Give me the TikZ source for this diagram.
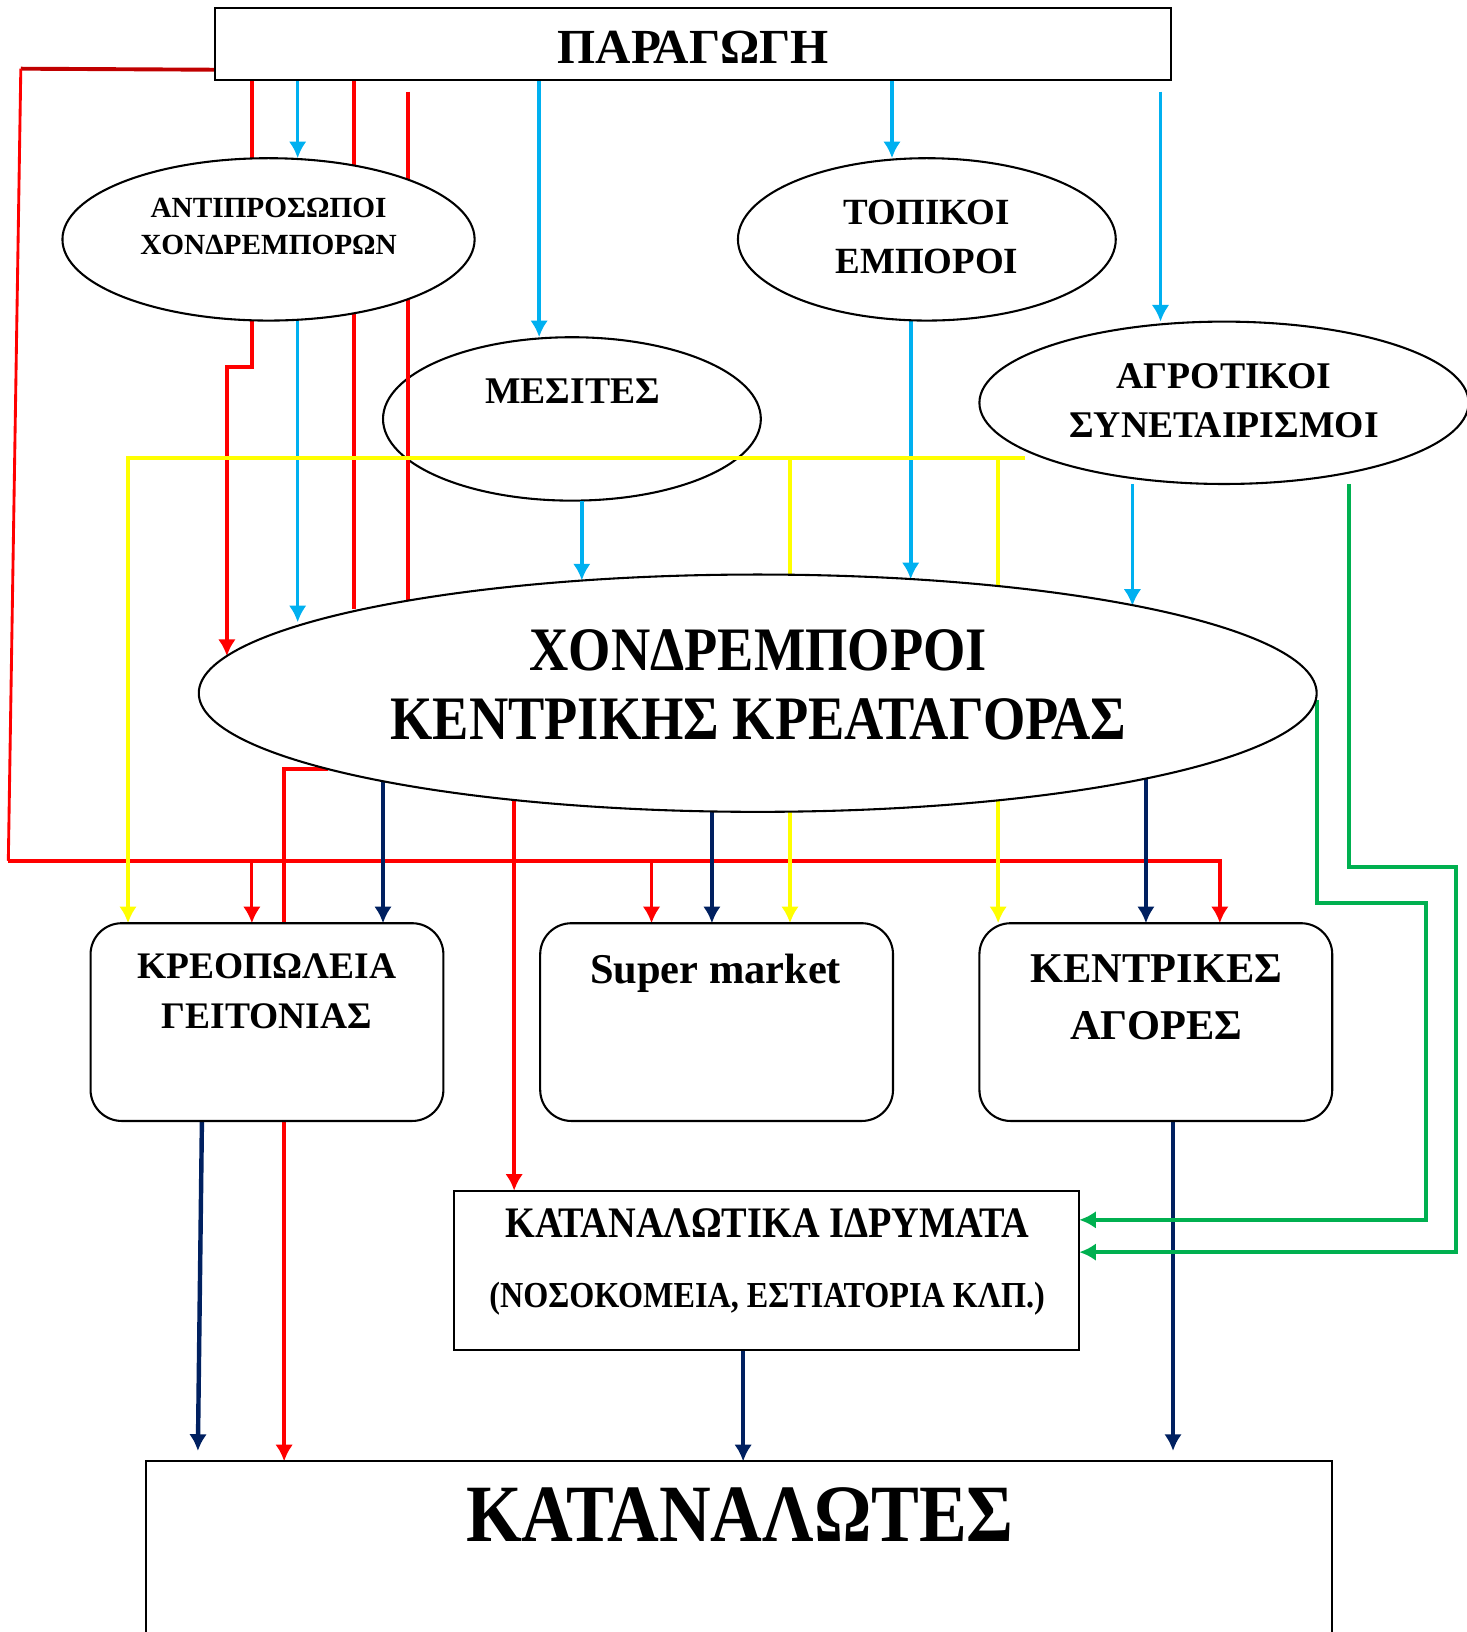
\documentclass[tikz,border=0pt]{standalone}
\usepackage{fontspec}
\setmainfont{Liberation Serif}
\newfontfamily\schmal[FakeStretch=0.88]{Liberation Serif}
\usetikzlibrary{arrows.meta,shapes.geometric}
\definecolor{rot}{HTML}{FF0000}
\definecolor{dunkelrot}{HTML}{C00000}
\definecolor{hellblau}{HTML}{00B0F0}
\definecolor{gelb}{HTML}{FFFF00}
\definecolor{marine}{HTML}{002060}
\definecolor{gruen}{HTML}{00B050}
\newdimen\px \px=0.2mm
\pgfdeclarelayer{unten}
\pgfdeclarelayer{linien}
\pgfsetlayers{unten,linien,main}
\tikzset{
  spitze/.style={-{Latex[length=3.2mm,width=3.4mm]}},
  lrot/.style={rot,line width=0.75mm},
  lrotd/.style={rot,line width=0.55mm},
  lblau/.style={hellblau,line width=0.7mm},
  lgelb/.style={gelb,line width=0.75mm},
  lmarine/.style={marine,line width=0.85mm},
  lgruen/.style={gruen,line width=0.75mm},
  oval/.style={ellipse,draw,fill=white,line width=0.4mm,inner sep=0pt,outer sep=0pt},
  kasten/.style={rectangle,draw,fill=white,line width=0.4mm,inner sep=0pt,outer sep=0pt},
  rundkasten/.style={kasten,rounded corners=6mm},
  txt/.style={align=center,inner sep=0pt},
}

\begin{document}
\begin{tikzpicture}[x=0.2mm,y=-0.2mm]
  \useasboundingbox (0,0) rectangle (1409,1568);
  % Knoten
  \node[kasten,minimum width=918\px,minimum height=69\px] (prod) at (666,42.5) {};
  \node[txt,font=\fontsize{26.8}{30}\selectfont\bfseries] (prodt) at (666,45) {ΠΑΡΑΓΩΓΗ};
  \node[oval,minimum width=396\px,minimum height=156\px] (antip) at (258,230) {};
  \node[txt,font=\fontsize{16}{20.2}\selectfont\bfseries] (antipt) at (258,218) {ΑΝΤΙΠΡΟΣΩΠΟΙ\\ΧΟΝΔΡΕΜΠΟΡΩΝ};
  \node[oval,minimum width=363\px,minimum height=156\px] (topik) at (890.5,230) {};
  \node[txt,font=\fontsize{20.2}{26.7}\selectfont\bfseries] (topikt) at (890.5,228) {ΤΟΠΙΚΟΙ\\ΕΜΠΟΡΟΙ};
  \begin{pgfonlayer}{unten}
    \node[oval,minimum width=363\px,minimum height=157\px] (mesit) at (549.5,402.5) {};
  \end{pgfonlayer}
  \node[txt,font=\fontsize{20.6}{24}\selectfont\bfseries] (mesitt) at (550,376) {ΜΕΣΙΤΕΣ};
  \node[oval,minimum width=470\px,minimum height=156\px] (agrot) at (1176,387) {};
  \node[txt,font=\fontsize{20.6}{26.4}\selectfont\bfseries] (agrott) at (1176,385) {ΑΓΡΟΤΙΚΟΙ\\ΣΥΝΕΤΑΙΡΙΣΜΟΙ};
  \node[oval,minimum width=1074\px,minimum height=228\px] (chondr) at (728,666) {};
  \node[txt,font=\schmal\fontsize{33.8}{38.1}\selectfont\bfseries] (chondrt) at (728.5,658) {ΧΟΝΔΡΕΜΠΟΡΟΙ\\ΚΕΝΤΡΙΚΗΣ ΚΡΕΑΤΑΓΟΡΑΣ};
  \node[rundkasten,minimum width=339\px,minimum height=190\px] (kreop) at (256.5,982) {};
  \node[txt,font=\fontsize{20.5}{27.3}\selectfont\bfseries] (kreopt) at (256.5,952) {ΚΡΕΟΠΩΛΕΙΑ\\ΓΕΙΤΟΝΙΑΣ};
  \node[rundkasten,minimum width=339\px,minimum height=190\px] (smarket) at (688.5,982) {};
  \node[txt,anchor=base,font=\fontsize{23.2}{27}\selectfont\bfseries] (smarkett) at (687.5,945) {Super market};
  \node[rundkasten,minimum width=339\px,minimum height=190\px] (kagor) at (1110.5,982) {};
  \node[txt,font=\fontsize{23.2}{31.3}\selectfont\bfseries] (kagort) at (1111,958.5) {ΚΕΝΤΡΙΚΕΣ\\ΑΓΟΡΕΣ};
  \node[kasten,minimum width=601\px,minimum height=153\px] (idrym) at (736.5,1220.5) {};
  \node[txt,anchor=base,font=\schmal\fontsize{23.8}{27}\selectfont\bfseries] (idrymt) at (737,1189) {ΚΑΤΑΝΑΛΩΤΙΚΑ ΙΔΡΥΜΑΤΑ};
  \node[txt,anchor=base,font=\schmal\fontsize{20}{24}\selectfont\bfseries] (idrymz) at (737,1256) {(ΝΟΣΟΚΟΜΕΙΑ, ΕΣΤΙΑΤΟΡΙΑ ΚΛΠ.)};
  \node[kasten,minimum width=1140\px,minimum height=200\px] (katan) at (710,1504) {};
  \node[txt,anchor=base,font=\schmal\fontsize{44.5}{50}\selectfont\bfseries] (katant) at (711,1481) {ΚΑΤΑΝΑΛΩΤΕΣ};

  \begin{pgfonlayer}{linien}
    % rote Wege
    \coordinate (ecke) at (20,66);
    \coordinate (knick) at (8,827);
    \draw[lrot,dunkelrot] (prod.west |- 0,67) -- (ecke);
    \draw[lrotd] (ecke) -- (knick);
    \draw[lrot,spitze] (knick) -- (1172,827) -- (kagor.north -| 1172,0);
    \draw[lrotd,spitze] (242,827) -- (kreop.north -| 242,0);
    \draw[lrotd,spitze] (626,827) -- (smarket.north -| 626,0);
    \draw[lrot] (prod.south -| 242,0) -- (antip.north -| 242,0);
    \draw[lrot,spitze] (antip.south -| 242,0) -- (242,353) -- (218,353) -- (chondr.176 -| 218,0);
    \draw[lrot] (prod.south -| 340,0) -- (chondr.168.5 -| 340,0);
    \draw[lrot,shorten <=11\px] (prod.south -| 392,0) -- (chondr.165.2 -| 392,0);
    \draw[lrot,spitze] (chondr.190.3) -| (katan.north -| 273,0);
    \draw[lrot,spitze] (chondr.203.7 -| 494,0) -- (idrym.north -| 494,0);
    % blaue Wege
    \draw[lblau,spitze] (prod.south -| 286,0) -- (antip.north -| 286,0);
    \draw[lblau,spitze] (antip.south -| 286,0) -- (chondr.171.7 -| 286,0);
    \draw[lblau,spitze] (prod.south -| 518,0) -- (mesit.north -| 518,0);
    \draw[lblau,spitze] (mesit.south -| 559,0) -- (chondr.147.4 -| 559,0);
    \draw[lblau,spitze] (prod.south -| 857,0) -- (topik.north -| 857,0);
    \draw[lblau,spitze] (topik.south -| 875,0) -- (chondr.36.7 -| 875,0);
    \draw[lblau,spitze,shorten <=11\px] (prod.south -| 1115,0) -- (agrot.north -| 1115,0);
    \draw[lblau,spitze] (agrot.south -| 1088,0) -- (chondr.13.2 -| 1088,0);
    % gelbe Wege
    \coordinate (gelbende) at (985,440);
    \draw[lgelb,spitze] (gelbende) -| (kreop.north -| 123,0);
    \draw[lgelb,spitze] (759,440) -- (smarket.north -| 759,0);
    \draw[lgelb,spitze] (959,440) -- (kagor.north -| 959,0);
    % dunkelblaue Wege
    \draw[lmarine,spitze] (chondr.193.2 -| 368,0) -- (kreop.north -| 368,0);
    \draw[lmarine,spitze] (chondr.248.8 -| 684,0) -- (smarket.north -| 684,0);
    \draw[lmarine,spitze] (chondr.-12.4 -| 1101,0) -- (kagor.north -| 1101,0);
    \draw[lmarine,spitze,shorten >=10\px] (kreop.south -| 194,0) -- (katan.north -| 190,0);
    \draw[lmarine,spitze] (idrym.south -| 714,0) -- (katan.north -| 714,0);
    \draw[lmarine,spitze,shorten >=10\px] (kagor.south -| 1127,0) -- (katan.north -| 1127,0);
    % gruene Wege
    \draw[lgruen,spitze] (agrot.south -| 1296,0) -- (1296,833) -- (1399,833) -- (1399,1203) -- (idrym.east |- 0,1203);
    \draw[lgruen,spitze] (chondr.east |- 0,673) -- (1265,868) -- (1370,868) -- (1370,1172) -- (idrym.east |- 0,1172);
  \end{pgfonlayer}
\end{tikzpicture}
\end{document}
